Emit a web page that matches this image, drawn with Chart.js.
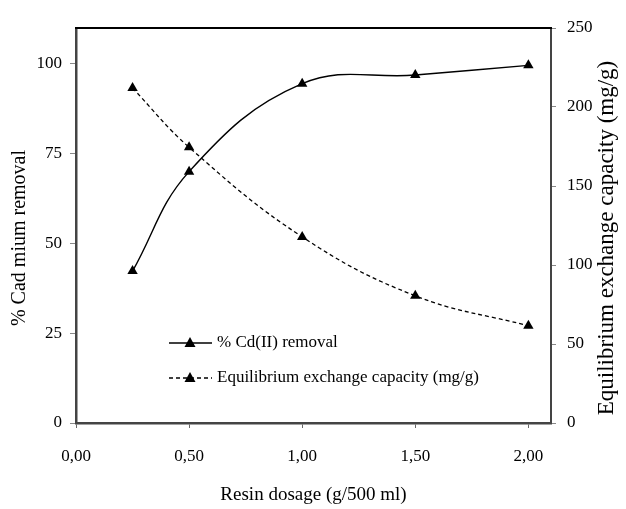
<!DOCTYPE html>
<html>
<head>
<meta charset="utf-8">
<script src="https://cdn.jsdelivr.net/npm/chart.js@4"></script>
<style>
html,body{margin:0;padding:0;background:#fff;}
#wrap{width:626px;height:509px;position:relative;}
</style>
</head>
<body>
<div id="wrap"><canvas id="c"></canvas></div>
<script>
const dosage = [0.25, 0.5, 1.0, 1.5, 2.0];
const removal = [42.3, 70.0, 94.5, 96.9, 99.6];
const capacity = [212, 174.5, 117.8, 80.5, 61.5];
const xTicks = [0, 0.5, 1.0, 1.5, 2.0];
const leftTicks = [0, 25, 50, 75, 100];
const rightTicks = [0, 50, 100, 150, 200, 250];
const seriesNames = ['% Cd(II) removal', 'Equilibrium exchange capacity (mg/g)'];
const leftTitle = '% Cad mium removal';
const rightTitle = 'Equilibrium exchange capacity (mg/g)';
const xTitle = 'Resin dosage (g/500 ml)';

const FONT = '"Liberation Serif", "Times New Roman", serif';

const framePlugin = {
  id: 'frame',
  afterDatasetsDraw(chart) {
    const {ctx, chartArea: a} = chart;
    ctx.save();
    ctx.strokeStyle = '#000';
    ctx.lineWidth = 2;
    ctx.beginPath();
    ctx.moveTo(a.left - 1, a.top);
    ctx.lineTo(a.right + 1, a.top);
    ctx.stroke();
    ctx.restore();
  }
};

const titlesPlugin = {
  id: 'yTitles',
  afterDraw(chart) {
    const {ctx} = chart;
    ctx.save();
    ctx.fillStyle = '#000';
    ctx.textAlign = 'center';
    ctx.textBaseline = 'middle';
    ctx.font = '20px ' + FONT;
    ctx.translate(20, 238);
    ctx.rotate(-Math.PI / 2);
    ctx.fillText(leftTitle, 0, 0);
    ctx.restore();
    ctx.save();
    ctx.fillStyle = '#000';
    ctx.textAlign = 'center';
    ctx.textBaseline = 'middle';
    ctx.font = '23px ' + FONT;
    ctx.translate(607, 238);
    ctx.rotate(-Math.PI / 2);
    ctx.fillText(rightTitle, 0, 0);
    ctx.restore();
  }
};

const legendPlugin = {
  id: 'customLegend',
  afterDraw(chart) {
    const {ctx} = chart;
    const rows = [
      {y: 343, dash: [], name: seriesNames[0]},
      {y: 378, dash: [4, 3], name: seriesNames[1]}
    ];
    ctx.save();
    rows.forEach(r => {
      ctx.strokeStyle = '#000';
      ctx.lineWidth = 1.3;
      ctx.setLineDash(r.dash);
      ctx.beginPath();
      ctx.moveTo(169, r.y);
      ctx.lineTo(212, r.y);
      ctx.stroke();
      ctx.setLineDash([]);
      ctx.fillStyle = '#000';
      ctx.beginPath();
      ctx.moveTo(190, r.y - 6);
      ctx.lineTo(195.5, r.y + 4);
      ctx.lineTo(184.5, r.y + 4);
      ctx.closePath();
      ctx.fill();
      ctx.font = '17px ' + FONT;
      ctx.textBaseline = 'middle';
      ctx.textAlign = 'left';
      ctx.fillText(r.name, 217, r.y);
    });
    ctx.restore();
  }
};

new Chart(document.getElementById('c'), {
  type: 'line',
  data: {
    datasets: [
      {
        label: seriesNames[0],
        data: dosage.map((x, i) => ({x, y: removal[i]})),
        yAxisID: 'y',
        borderColor: '#000',
        backgroundColor: '#000',
        borderWidth: 1.4,
        tension: 0.4,
        pointStyle: 'triangle',
        pointRadius: 6,
        pointBorderWidth: 0,
        fill: false
      },
      {
        label: seriesNames[1],
        data: dosage.map((x, i) => ({x, y: capacity[i]})),
        yAxisID: 'y2',
        borderColor: '#000',
        backgroundColor: '#000',
        borderWidth: 1.3,
        borderDash: [4, 3],
        tension: 0.4,
        pointStyle: 'triangle',
        pointRadius: 6,
        pointBorderWidth: 0,
        fill: false
      }
    ]
  },
  options: {
    responsive: true,
    maintainAspectRatio: false,
    animation: false,
    layout: {padding: {top: 28, left: 0, right: 0, bottom: 0}},
    plugins: {legend: {display: false}, tooltip: {enabled: false}},
    scales: {
      x: {
        type: 'linear',
        min: 0, max: 2.1,
        afterFit(s) { s.height = 86; },
        afterBuildTicks(s) { s.ticks = xTicks.map(v => ({value: v})); },
        ticks: {
          color: '#000',
          font: {family: FONT, size: 17},
          padding: 18,
          maxRotation: 0,
          callback: v => v.toFixed(2).replace('.', ',')
        },
        grid: {display: true, drawOnChartArea: false, tickLength: 5, color: '#666', tickColor: '#666'},
        border: {display: true, color: '#444', width: 2.5},
        title: {display: true, text: xTitle, color: '#000',
          font: {family: FONT, size: 19}, padding: {top: 0, bottom: 3}}
      },
      y: {
        type: 'linear',
        position: 'left',
        min: 0, max: 110,
        afterFit(s) { s.width = 76; },
        afterBuildTicks(s) { s.ticks = leftTicks.map(v => ({value: v})); },
        ticks: {color: '#000', font: {family: FONT, size: 17}, padding: 8},
        grid: {display: true, drawOnChartArea: false, tickLength: 6, color: '#666', tickColor: '#888'},
        border: {display: true, color: '#444', width: 2.5},
        title: {display: false}
      },
      y2: {
        type: 'linear',
        position: 'right',
        min: 0, max: 250,
        afterFit(s) { s.width = 75; },
        afterBuildTicks(s) { s.ticks = rightTicks.map(v => ({value: v})); },
        ticks: {color: '#000', font: {family: FONT, size: 17}, padding: 11},
        grid: {display: true, drawOnChartArea: false, tickLength: 5, color: '#666', tickColor: '#888'},
        border: {display: true, color: '#444', width: 2},
        title: {display: false}
      }
    }
  },
  plugins: [framePlugin, titlesPlugin, legendPlugin]
});
</script>
</body>
</html>
